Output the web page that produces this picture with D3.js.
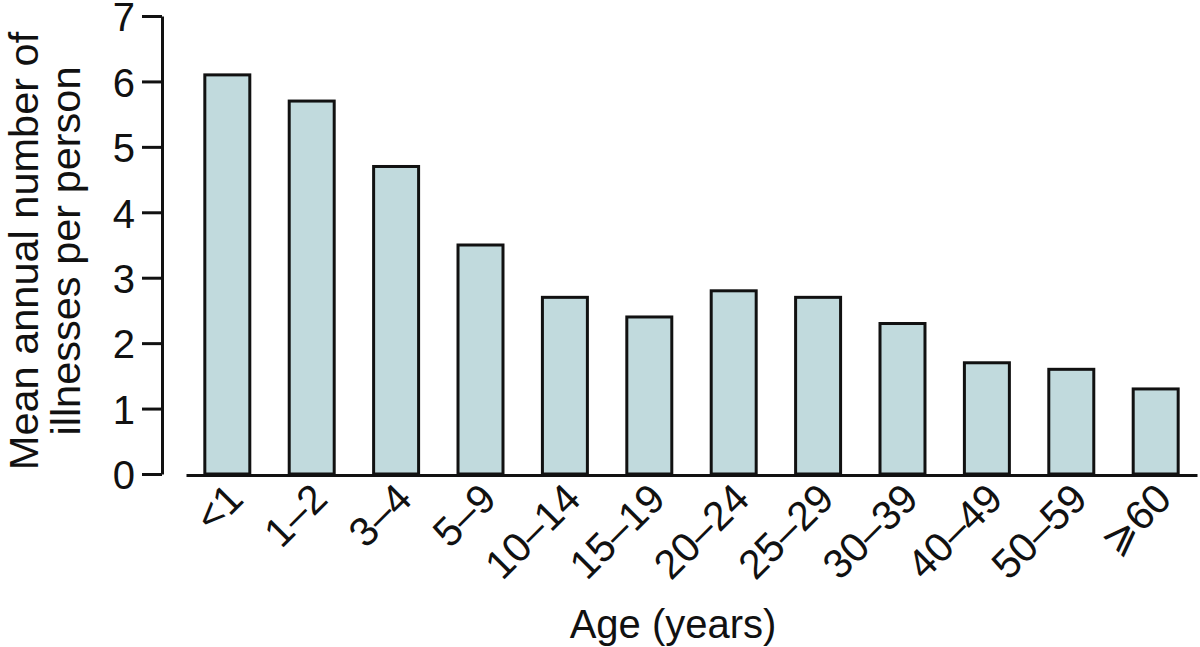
<!DOCTYPE html>
<html>
<head>
<meta charset="utf-8">
<script src="https://cdn.jsdelivr.net/npm/d3@7"></script>
<style>
  html, body { margin: 0; padding: 0; background: #fff; }
  svg { display: block; }
  text { font-family: "Liberation Sans", Arial, sans-serif; fill: #111; }
</style>
</head>
<body>
<svg id="chart" width="1200" height="647"></svg>
<script>
const categories = ["<1", "1\u20132", "3\u20134", "5\u20139", "10\u201314", "15\u201319", "20\u201324", "25\u201329", "30\u201339", "40\u201349", "50\u201359", "\u2A7E60"];
const values = [6.1, 5.7, 4.7, 3.5, 2.7, 2.4, 2.8, 2.7, 2.3, 1.7, 1.6, 1.3];
const yTicks = [0, 1, 2, 3, 4, 5, 6, 7];
const yTitleLines = ["Mean annual number of", "illnesses per person"];
const xTitle = "Age (years)";

const svg = d3.select("#chart");
const fontSize = 40;

const y = d3.scaleLinear().domain([0, 7]).range([474, 16]);
const x = d3.scaleBand().domain(categories).range([186, 1197])
  .paddingInner(0.467).paddingOuter(0.223);

// Y axis
const yAxis = d3.axisLeft(y).tickValues(yTicks).tickSize(20).tickSizeOuter(0).tickPadding(7)
  .tickFormat(d3.format("d"));
const gy = svg.append("g").attr("transform", "translate(162,0)").call(yAxis);
gy.select(".domain").attr("stroke", "#111").attr("stroke-width", 3);
gy.selectAll(".tick line").attr("stroke", "#111").attr("stroke-width", 3);
gy.selectAll(".tick text").attr("font-size", fontSize).attr("dy", "0.37em")
  .attr("font-family", "Liberation Sans, Arial, sans-serif").attr("fill", "#111");

// Bars
svg.append("g").selectAll("rect").data(values).join("rect")
  .attr("x", (d, i) => x(categories[i]))
  .attr("y", d => y(d))
  .attr("width", x.bandwidth())
  .attr("height", d => y(0) - y(d))
  .attr("fill", "#c1dadd")
  .attr("stroke", "#111")
  .attr("stroke-width", 3);

// X axis
const xAxis = d3.axisBottom(x).tickSize(0).tickSizeOuter(0).tickFormat("");
const gx = svg.append("g").attr("transform", "translate(0,475)").call(xAxis);
gx.select(".domain").attr("stroke", "#111").attr("stroke-width", 3);

// X labels rotated
svg.append("g").selectAll("text").data(categories).join("text")
  .attr("transform", d => {
    const cx = x(d) + x.bandwidth() / 2 + 18;
    return `translate(${cx},501) rotate(-45)`;
  })
  .attr("text-anchor", "end")
  .attr("font-size", 41)
  .text(d => d);

// Y title
yTitleLines.forEach((t, i) => {
  svg.append("text")
    .attr("transform", `translate(${38 + i * 42},251) rotate(-90)`)
    .attr("text-anchor", "middle")
    .attr("font-size", 41.5)
    .text(t);
});

// X title
svg.append("text")
  .attr("x", 673).attr("y", 638)
  .attr("text-anchor", "middle")
  .attr("font-size", fontSize)
  .text(xTitle);
</script>
</body>
</html>
